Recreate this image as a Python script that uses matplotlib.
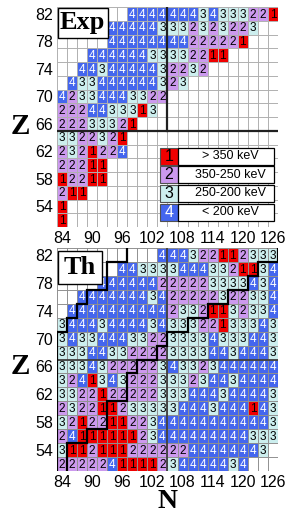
import matplotlib
matplotlib.use("Agg")
import matplotlib.pyplot as plt
from matplotlib.patches import Rectangle

# ---------------- data ----------------
N_values = list(range(84, 127, 2))          # 22 columns
Z_values = list(range(82, 51, -2))          # 16 rows, top to bottom
x_ticks = [84, 90, 96, 102, 108, 114, 120, 126]
y_ticks = [54, 58, 62, 66, 70, 74, 78, 82]

# category per cell ('.' = no value), one string per Z row (N = 84..126)
exp_rows = [
    ".......444444434333221",   # 82
    ".....444443332323223..",   # 80
    ".....44444444222221...",   # 78
    "...44444433332211.....",   # 76
    "..4434444432232.......",   # 74
    ".433444444323.........",   # 72
    "42334443322...........",   # 70
    "2224433313............",   # 68
    "22233321..............",   # 66
    "3322321...............",   # 64
    "2321224...............",   # 62
    "22211.................",   # 60
    "12211.................",   # 58
    "211...................",   # 56
    "1.....................",   # 54
    "1.....................",   # 52
]
th_rows = [
    "..........444322112333",   # 82
    "......4433334443321134",   # 80
    "....444444222223333434",   # 78
    "..44444443422222322334",   # 76
    ".444444444423321132334",   # 74
    "3444344443433322133343",   # 72
    "3433444332233334333443",   # 70
    "3334433222233334434443",   # 68
    "3334322222343323444444",   # 66
    "3241343222333234434444",   # 64
    "3322122222333444344443",   # 62
    "2322112333334443444143",   # 60
    "3212211223444444444443",   # 58
    "2411111123444444444333",   # 56
    "311211122222244444443.",   # 54
    "2222241111234444434...",   # 52
]

legend_labels = ["> 350 keV", "350-250 keV", "250-200 keV", "< 200 keV"]
cat_colors = {1: "#f00000", 2: "#cc99ee", 3: "#cceeee", 4: "#4466ee"}
txt_colors = {1: "black", 2: "black", 3: "black", 4: "white"}

plt.rcParams['font.family'] = ['Liberation Sans', 'DejaVu Sans']

W, H = 291, 516
fig = plt.figure(figsize=(W / 100, H / 100), dpi=100)
L, R = 57, 278
TOP1, BOT1 = 7, 227
TOP2, BOT2 = 248, 471


def ax_rect(top, bottom):
    return [L / W, 1 - bottom / H, (R - L) / W, (bottom - top) / H]


ax_exp = fig.add_axes(ax_rect(TOP1, BOT1))
ax_th = fig.add_axes(ax_rect(TOP2, BOT2))


def draw_cells(ax, rows):
    for r, Z in enumerate(Z_values):
        for c, N in enumerate(N_values):
            ch = rows[r][c]
            if ch == '.':
                continue
            k = int(ch)
            ax.add_patch(Rectangle((N - 1, Z - 1), 2, 2, fc=cat_colors[k],
                                   ec='none', zorder=1))
            ax.text(N, Z - 0.1, ch, ha='center', va='center', fontsize=8.5,
                    color=txt_colors[k], zorder=3)


def draw_grid(ax, color):
    for n in range(83, 128, 2):
        ax.plot([n, n], [51, 83], color=color, lw=0.7, zorder=2)
    for z in range(51, 84, 2):
        ax.plot([83, 127], [z, z], color=color, lw=0.7, zorder=2)


def setup(ax):
    ax.set_xlim(83, 127)
    ax.set_ylim(51, 83)
    for s in ax.spines.values():
        s.set_visible(False)
    ax.set_xticks(x_ticks)
    ax.set_yticks(y_ticks)
    ax.tick_params(length=0, labelsize=11.5, pad=3)


def boundary(rows):
    left, right = [], []
    for r, Z in enumerate(Z_values):
        idx = [c for c, ch in enumerate(rows[r]) if ch != '.']
        left.append(N_values[idx[0]] - 1)
        right.append(N_values[idx[-1]] + 1)
    lx, ly, rx, ry = [], [], [], []
    for r, Z in enumerate(Z_values):
        lx += [left[r], left[r]]
        ly += [Z + 1, Z - 1]
        rx += [right[r], right[r]]
        ry += [Z + 1, Z - 1]
    return lx, ly, rx, ry


def pix_box(ax, top, x0, y0, x1, y1, **kw):
    """rectangle given in figure pixels, drawn in axes fraction coords"""
    h = (BOT1 - TOP1) if top == TOP1 else (BOT2 - TOP2)
    fx0 = (x0 - L) / (R - L)
    fx1 = (x1 - L) / (R - L)
    fy0 = 1 - (y1 - top) / h
    fy1 = 1 - (y0 - top) / h
    ax.add_patch(Rectangle((fx0, fy0), fx1 - fx0, fy1 - fy0,
                           transform=ax.transAxes, clip_on=False, **kw))
    return (fx0 + fx1) / 2, (fy0 + fy1) / 2


# ---------- Exp panel ----------
setup(ax_exp)
draw_cells(ax_exp, exp_rows)
draw_grid(ax_exp, "#b0b0b0")
ax_exp.plot([105, 105], [65, 83], color="#202020", lw=1.6, zorder=4)
ax_exp.plot([83, 127], [65, 65], color="#202020", lw=1.6, zorder=4)

cx, cy = pix_box(ax_exp, TOP1, 57.5, 7.5, 107.5, 37.5, fc='white', ec='black',
                 lw=1.0, zorder=6)
ax_exp.text(cx, cy, "Exp", transform=ax_exp.transAxes, ha='center',
            va='center', fontsize=19, fontweight='bold',
            family='Liberation Serif', zorder=7)

# legend
for k, lab in enumerate(legend_labels, start=1):
    y0 = 147 + (k - 1) * 18.6
    cx, cy = pix_box(ax_exp, TOP1, 160, y0 + 0.8, 177.5, y0 + 17.8,
                     fc=cat_colors[k], ec='#505050', lw=0.8, zorder=6)
    ax_exp.text(cx, cy, str(k), transform=ax_exp.transAxes, ha='center',
                va='center', fontsize=11.5, color=txt_colors[k], zorder=7)
    cx, cy = pix_box(ax_exp, TOP1, 177.5, y0 + 0.8, 274, y0 + 17.8,
                     fc='white', ec='black', lw=0.9, zorder=6)
    ax_exp.text(cx + 0.02, cy, lab, transform=ax_exp.transAxes, ha='center',
                va='center', fontsize=9, color='black', zorder=7)

# ---------- Th panel ----------
setup(ax_th)
draw_cells(ax_th, th_rows)
draw_grid(ax_th, "#909090")
ax_th.plot([105, 105], [51, 83], color="#404040", lw=1.3, zorder=4)
ax_th.plot([83, 127], [67, 67], color="#404040", lw=1.3, zorder=4)
bx, by, brx, bry = boundary(exp_rows)
ax_th.plot(bx, by, color='black', lw=1.6, zorder=5, solid_joinstyle='miter')
ax_th.plot(brx, bry, color='black', lw=1.6, zorder=5, solid_joinstyle='miter')

cx, cy = pix_box(ax_th, TOP2, 57.5, 250.5, 101.5, 284, fc='white', ec='black',
                 lw=1.0, zorder=6)
ax_th.text(cx, cy, "Th", transform=ax_th.transAxes, ha='center',
           va='center', fontsize=19, fontweight='bold',
           family='Liberation Serif', zorder=7)

fig.text(20 / W, 1 - 127 / H, "Z", fontsize=21, fontweight='bold',
         family='Liberation Serif', ha='center', va='center')
fig.text(20 / W, 1 - 367 / H, "Z", fontsize=21, fontweight='bold',
         family='Liberation Serif', ha='center', va='center')
fig.text(167 / W, 1 - 502 / H, "N", fontsize=20, fontweight='bold',
         family='Liberation Serif', ha='center', va='center')

fig.savefig("out.png", dpi=100)
